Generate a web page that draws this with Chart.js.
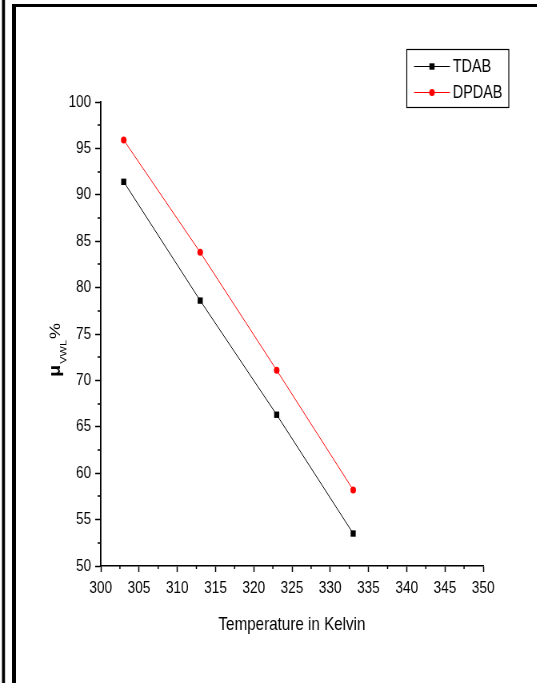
<!DOCTYPE html>
<html>
<head>
<meta charset="utf-8">
<script src="https://cdn.jsdelivr.net/npm/chart.js@4"></script>
<style>
  html, body { margin: 0; padding: 0; background: #fff; overflow: hidden; }
  /* a figura original esta comprimida na horizontal */
  #grafico { display: block; transform: scaleX(0.8); transform-origin: 0 0; }
</style>
</head>
<body>
<canvas id="grafico" width="672" height="683"></canvas>
<script>
// Dados
const temperaturas = [303, 313, 323, 333];
const tdab = [91.4, 78.6, 66.3, 53.5];
const dpdab = [95.9, 83.8, 71.1, 58.2];
const nomes = ["TDAB", "DPDAB"];
const eixoX = { min: 300, max: 350, passo: 5 };
const eixoY = { min: 50, max: 100, passo: 5 };

const FONTE = "'Liberation Sans', Arial, sans-serif";

const pontos = (ys) => temperaturas.map((t, i) => ({ x: t, y: ys[i] }));

// Moldura, tracos menores, titulo do eixo y e legenda
const extras = {
  id: "extras",
  afterDraw(chart) {
    const ctx = chart.ctx;
    const { x, y } = chart.scales;
    const area = chart.chartArea;
    ctx.save();

    // moldura
    ctx.fillStyle = "#000";
    ctx.fillRect(2.5, 0, 3.75, 683);
    ctx.fillRect(15, 4, 5, 679);
    ctx.fillRect(15, 4, 660, 3);

    // tracos menores
    ctx.strokeStyle = "#000";
    ctx.lineWidth = 1.5;
    ctx.beginPath();
    for (let v = eixoY.min + eixoY.passo / 2; v < eixoY.max; v += eixoY.passo) {
      const py = Math.round(y.getPixelForValue(v));
      ctx.moveTo(area.left, py);
      ctx.lineTo(area.left - 4, py);
    }
    for (let v = eixoX.min + eixoX.passo / 2; v < eixoX.max; v += eixoX.passo) {
      const px = x.getPixelForValue(v);
      ctx.moveTo(px, area.bottom);
      ctx.lineTo(px, area.bottom + 3);
    }
    ctx.stroke();

    // titulo do eixo y: mu com subscrito VWL e %
    ctx.translate(74.5, 377);
    ctx.rotate(-Math.PI / 2);
    ctx.fillStyle = "#000";
    ctx.textBaseline = "alphabetic";
    ctx.textAlign = "left";
    ctx.font = "bold 20px " + FONTE;
    ctx.fillText("μ", 0, 0);
    let pos = ctx.measureText("μ").width + 1;
    ctx.font = "11px " + FONTE;
    ctx.fillText("VWL", pos, 8.5);
    pos += ctx.measureText("VWL").width + 1;
    ctx.font = "18px " + FONTE;
    ctx.fillText("%", pos, 0);
    ctx.setTransform(1, 0, 0, 1, 0, 0);

    // legenda
    ctx.lineWidth = 1.2;
    ctx.strokeStyle = "#000";
    ctx.strokeRect(508.5, 49.5, 127.5, 58);
    ctx.font = "18px " + FONTE;
    ctx.textBaseline = "middle";
    chart.data.datasets.forEach((ds, i) => {
      const ly = 66.5 + i * 26;
      ctx.strokeStyle = ds.borderColor;
      ctx.lineWidth = 1;
      ctx.beginPath();
      ctx.moveTo(517.5, ly);
      ctx.lineTo(562.5, ly);
      ctx.stroke();
      ctx.fillStyle = ds.pointBackgroundColor;
      if (ds.pointStyle === "rect") {
        const s = ds.pointRadius * Math.SQRT1_2;
        ctx.fillRect(540 - s, ly - s, s * 2, s * 2);
      } else {
        ctx.beginPath();
        ctx.arc(540, ly, ds.pointRadius, 0, Math.PI * 2);
        ctx.fill();
      }
      ctx.fillStyle = "#000";
      ctx.fillText(ds.label, 566, ly + 1);
    });
    ctx.restore();
  },
};

new Chart(document.getElementById("grafico"), {
  type: "line",
  data: {
    datasets: [
      {
        label: nomes[0],
        data: pontos(tdab),
        borderColor: "#000",
        borderWidth: 1,
        pointStyle: "rect",
        pointRadius: 4.5,
        pointBorderWidth: 0,
        pointBackgroundColor: "#000",
        tension: 0,
      },
      {
        label: nomes[1],
        data: pontos(dpdab),
        borderColor: "#ff0000",
        borderWidth: 1,
        pointStyle: "circle",
        pointRadius: 3.5,
        pointBorderWidth: 0,
        pointBackgroundColor: "#ff0000",
        tension: 0,
      },
    ],
  },
  options: {
    responsive: false,
    animation: false,
    events: [],
    layout: { padding: { top: 102, right: 68, bottom: 0, left: 0 } },
    plugins: {
      legend: { display: false },
      tooltip: { enabled: false },
    },
    scales: {
      x: {
        type: "linear",
        min: eixoX.min,
        max: eixoX.max,
        afterFit: (s) => { s.height = 117; },
        border: { color: "#000", width: 1.5 },
        grid: {
          drawOnChartArea: false,
          tickLength: 6,
          tickWidth: 1.5,
          tickColor: "#000",
        },
        ticks: {
          stepSize: eixoX.passo,
          autoSkip: false,
          maxRotation: 0,
          padding: 6,
          color: "#000",
          font: { family: FONTE, size: 17 },
        },
        title: {
          display: true,
          text: "Temperature in Kelvin",
          color: "#000",
          font: { family: FONTE, size: 19 },
          padding: { top: 4, bottom: 47 },
        },
      },
      y: {
        type: "linear",
        min: eixoY.min,
        max: eixoY.max,
        afterFit: (s) => { s.width = 126; },
        border: { color: "#000", width: 1.8 },
        grid: {
          drawOnChartArea: false,
          tickLength: 7,
          tickWidth: 1.5,
          tickColor: "#000",
        },
        ticks: {
          stepSize: eixoY.passo,
          autoSkip: false,
          padding: 5,
          color: "#000",
          font: { family: FONTE, size: 17 },
        },
      },
    },
  },
  plugins: [extras],
});
</script>
</body>
</html>
